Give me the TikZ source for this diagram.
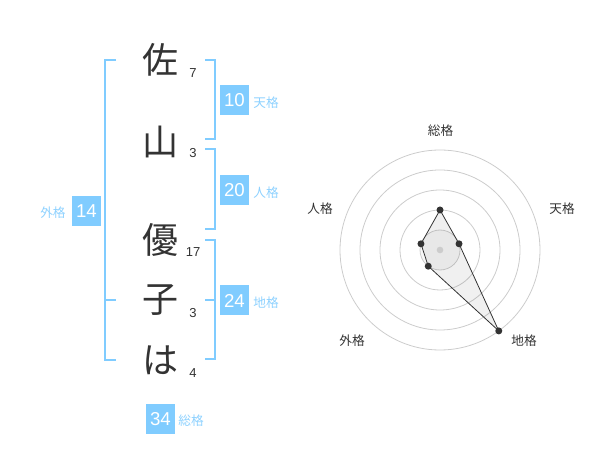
\documentclass[tikz,border=0pt]{standalone}
\usepackage{fontspec}
\setmainfont{Liberation Sans}
\newfontfamily\jp{Noto Sans CJK JP}
\usetikzlibrary{calc}
\definecolor{kakublue}{RGB}{128,204,255}
\definecolor{kakuink}{RGB}{51,51,51}
\begin{document}
\begin{tikzpicture}[x=0.75pt,y=0.75pt,
moji/.style={font=\jp\fontsize{27}{27}\selectfont,text=kakuink,inner sep=0},
kakusu/.style={font=\fontsize{9.75}{10}\selectfont,text=kakuink,inner sep=0},
kakubox/.style={fill=kakublue,text=white,minimum width=21.75pt,minimum height=22.5pt,inner sep=0,font=\fontsize{14}{14}\selectfont},
kakulabel/.style={font=\jp\fontsize{9.5}{10}\selectfont,text=kakublue!90,inner sep=0},
bracket/.style={draw=kakublue,line width=1.5pt},
ring/.style={draw=black!20,line width=0.6pt},
radarlabel/.style={font=\jp\fontsize{9.5}{10}\selectfont,text=kakuink,inner sep=0},
vdot/.style={circle,fill=kakuink,inner sep=0,minimum size=5.25pt}]
\useasboundingbox (0,0) rectangle (600,-470);
% name
\node[moji] at (160,-60)(sa){佐};
\node[moji] at (160,-142)(yama){山};
\node[moji] at (160,-240)(yu){優};
\node[moji] at (160,-300)(ko){子};
\node[moji] at (160,-360)(ha){は};
\node[kakusu] at (193,-73)(nsa){7};
\node[kakusu] at (193,-153)(nyama){3};
\node[kakusu] at (193,-252)(nyu){17};
\node[kakusu] at (193,-313)(nko){3};
\node[kakusu] at (193,-373)(nha){4};
% brackets
\draw[bracket](116,-60)--(104.5,-60)--(104.5,-360)--(116,-360);
\draw[bracket](104.5,-300)--(116,-300);
\draw[bracket](205,-60)--(215,-60)--(215,-139)--(205,-139);
\draw[bracket](205,-149)--(215,-149)--(215,-229)--(205,-229);
\draw[bracket](205,-240)--(215,-240)--(215,-359)--(205,-359);
\draw[bracket](215,-300)--(205,-300);
% scores
\node[kakubox] at (234.5,-100)(ten){10};
\node[kakulabel] at (266,-103)(tenl){天格};
\node[kakubox] at (234.5,-190)(jin){20};
\node[kakulabel] at (266,-193)(jinl){人格};
\node[kakubox] at (234.5,-300.5)(chi){24};
\node[kakulabel] at (266,-303)(chil){地格};
\node[kakubox] at (86.5,-211)(gai){14};
\node[kakulabel] at (53,-213)(gail){外格};
\node[kakubox] at (160.5,-419)(so){34};
\node[kakulabel] at (191,-421)(sol){総格};
% radar
\begin{scope}[shift={(440,-250)}]
\fill[black,opacity=.03](0,0) circle (20);
\foreach \r in {20,40,...,100}
  \draw[ring](0,0) circle (\r);
\coordinate (vs) at (90:40);
\coordinate (vt) at (18:20);
\coordinate (vc) at (-54:100);
\coordinate (vg) at (-126:20);
\coordinate (vj) at (162:20);
\filldraw[fill=black,fill opacity=.06,draw=kakuink,line width=.6pt](vs)--(vt)--(vc)--(vg)--(vj)--cycle;
\foreach \v in {vs,vt,vc,vg,vj}
  \node[vdot] at (\v){};
\node[circle,fill=black!20,inner sep=0,minimum size=5pt] (mid) at (0,0){};
\end{scope}
\node[radarlabel] at (440.5,-130.5)(rso){総格};
\node[radarlabel] at (562,-209)(rten){天格};
\node[radarlabel] at (524,-341)(rchi){地格};
\node[radarlabel] at (352,-341)(rgai){外格};
\node[radarlabel] at (320,-209)(rjin){人格};
\end{tikzpicture}
\end{document}
